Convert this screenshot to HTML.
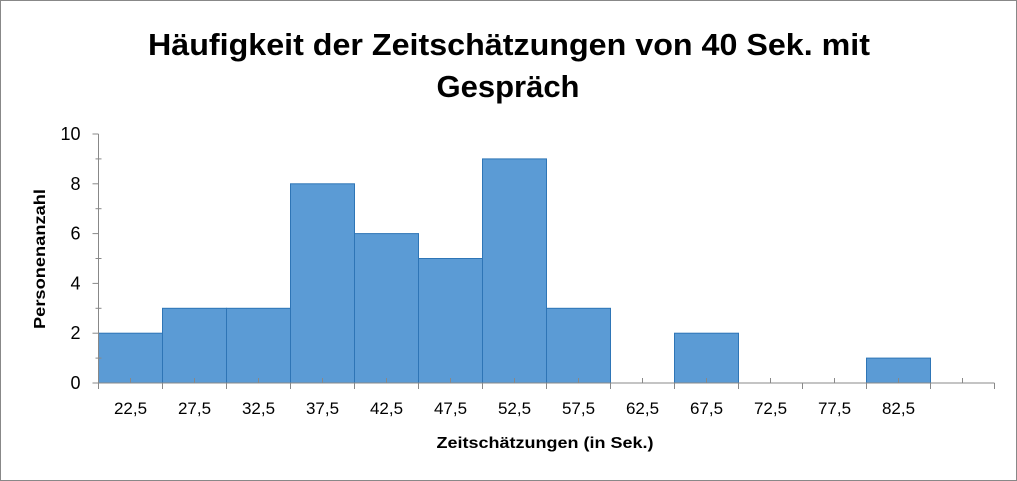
<!DOCTYPE html>
<html><head><meta charset="utf-8"><style>
body{margin:0;background:#fff}
svg{display:block;font-family:"Liberation Sans",sans-serif}
</style></head><body>
<svg width="1017" height="481">
<rect x="0.5" y="0.5" width="1016" height="480" fill="#fff" stroke="#888"/>
<text x="509" y="55" text-anchor="middle" font-size="31" font-weight="bold" fill="#000" textLength="722" lengthAdjust="spacingAndGlyphs">Häufigkeit der Zeitschätzungen von 40 Sek. mit</text>
<text x="508" y="97" text-anchor="middle" font-size="31" font-weight="bold" fill="#000" textLength="143" lengthAdjust="spacingAndGlyphs">Gespräch</text>
<text transform="translate(45,259) rotate(-90)" text-anchor="middle" font-size="16" font-weight="bold" textLength="140" lengthAdjust="spacingAndGlyphs">Personenanzahl</text>
<text x="545" y="448" text-anchor="middle" font-size="16" font-weight="bold" textLength="217" lengthAdjust="spacingAndGlyphs">Zeitschätzungen (in Sek.)</text>
<g id="plot"></g>
</svg>
<script>
const categories=["22,5","27,5","32,5","37,5","42,5","47,5","52,5","57,5","62,5","67,5","72,5","77,5","82,5",""];
const counts=[2,3,3,8,6,5,9,3,0,2,0,0,1,0];
const yTicks=[0,2,4,6,8,10];
const X0=98.5,BW=64,Y0=383,YTOP=134,YMAX=10;
const xs=i=>X0+i*BW;
const ys=v=>Y0-(Y0-YTOP)*v/YMAX;
const g=document.getElementById('plot');
const NS='http://www.w3.org/2000/svg';
function mk(t,a){const e=document.createElementNS(NS,t);for(const k in a)e.setAttribute(k,a[k]);g.appendChild(e);return e;}
counts.forEach((v,i)=>{if(v<=0)return;
const r=mk('rect',{x:xs(i),y:ys(v),width:BW,height:Y0-ys(v),fill:'#5b9bd5',stroke:'#2e75b6','stroke-width':1});

});
const ya=mk('line',{x1:X0,y1:YTOP,x2:X0,y2:Y0,stroke:'#888'});


for(let v=0;v<=YMAX;v++){const y=ys(v);
 if(v%2===0){mk('line',{x1:X0-6,y1:y,x2:X0,y2:y,stroke:'#888'});}
 else mk('line',{x1:X0-3,y1:y,x2:X0+3,y2:y,stroke:'#888'});}
yTicks.forEach(v=>{const t=mk('text',{x:X0-18,y:ys(v)+6,'text-anchor':'end','font-size':18});t.textContent=v;

});
const n=counts.length;
const xa=mk('line',{x1:X0,y1:Y0,x2:xs(n),y2:Y0,stroke:'#888'});


for(let i=0;i<=n;i++)mk('line',{x1:xs(i),y1:Y0,x2:xs(i),y2:Y0+6,stroke:'#888'});
for(let i=0;i<n;i++){mk('line',{x1:xs(i)+BW/2,y1:Y0-5,x2:xs(i)+BW/2,y2:Y0,stroke:'#888'});
 if(categories[i]){const t=mk('text',{x:xs(i)+BW/2,y:Y0+31,'text-anchor':'middle','font-size':17});t.textContent=categories[i];
 
 }}
</script>
</body></html>
